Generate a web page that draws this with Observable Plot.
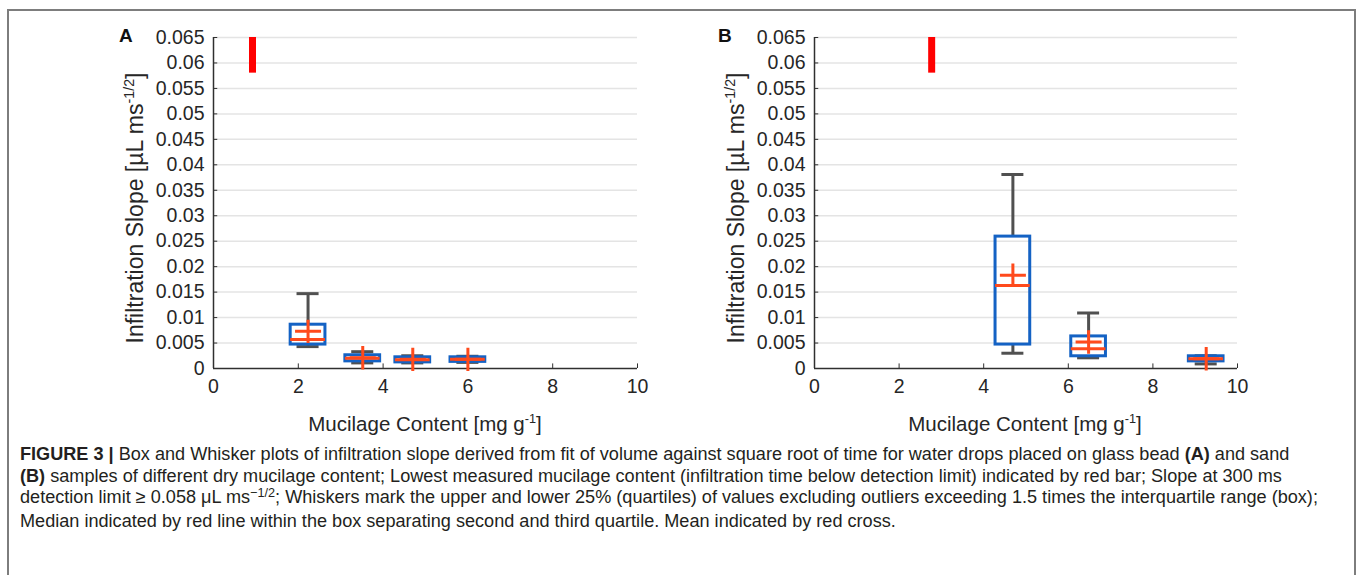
<!DOCTYPE html>
<html><head><meta charset="utf-8">
<script src="https://cdn.jsdelivr.net/npm/d3@7"></script>
<script src="https://cdn.jsdelivr.net/npm/@observablehq/plot@0.6"></script>
<style>
body{margin:0;background:#fff;width:1357px;height:575px;overflow:hidden;position:relative;font-family:"Liberation Sans",Arial,sans-serif;}
#frame{position:absolute;left:7px;top:9px;width:1345px;height:620px;border:2px solid #7d7d7d;border-bottom:none;}
.plotbox{position:absolute;top:0}
.lbl{position:absolute;color:#262626;white-space:nowrap;}
.sup{font-size:0.62em;position:relative;top:-0.6em;}
.ylbl{font-size:23px;transform:translate(-50%,-50%) rotate(-90deg);}
.xlbl{font-size:20.5px;transform:translate(-50%,-50%);}
.letter{position:absolute;font-weight:bold;font-size:19px;color:#111;}
#caption{position:absolute;left:20px;top:444px;font-family:"Liberation Sans",Arial,sans-serif;font-size:16px;line-height:21.7px;color:#231f20;white-space:nowrap;}
#caption b{font-weight:bold}
.csup{font-size:0.7em;position:relative;top:-0.5em;}
</style>
</head><body>
<div id="frame"></div>
<div id="pA" class="plotbox" style="left:0px"></div>
<div id="pB" class="plotbox" style="left:660px"></div>
<div class="letter" style="left:119px;top:25px">A</div>
<div class="letter" style="left:718px;top:25px">B</div>
<div class="lbl ylbl" style="left:135px;top:208px">Infiltration Slope [µL ms<span class="sup">-1/2</span>]</div>
<div class="lbl ylbl" style="left:736px;top:208px">Infiltration Slope [µL ms<span class="sup">-1/2</span>]</div>
<div class="lbl xlbl" style="left:425px;top:424px">Mucilage Content [mg g<span class="sup">-1</span>]</div>
<div class="lbl xlbl" style="left:1025px;top:424px">Mucilage Content [mg g<span class="sup">-1</span>]</div>
<div id="caption"><span id="l1"><b>FIGURE 3 |</b> Box and Whisker plots of infiltration slope derived from fit of volume against square root of time for water drops placed on glass bead <b>(A)</b> and sand</span><br><b>(B)</b> samples of different dry mucilage content; Lowest measured mucilage content (infiltration time below detection limit) indicated by red bar; Slope at 300 ms<br>detection limit ≥ 0.058 μL ms<span class="csup">−1/2</span>; Whiskers mark the upper and lower 25% (quartiles) of values excluding outliers exceeding 1.5 times the interquartile range (box);<br>Median indicated by red line within the box separating second and third quartile. Mean indicated by red cross.</div>
<script>
// ---- data ----
const xTicks = [0, 2, 4, 6, 8, 10];
const yTicks = [0, 0.005, 0.01, 0.015, 0.02, 0.025, 0.03, 0.035, 0.04, 0.045, 0.05, 0.055, 0.06, 0.065];
const limitLow = 0.058, limitHigh = 0.065;

// Panel A: glass beads
const xA    = [2.23, 3.52, 4.70, 6.00];
const lowA  = [0.0043, 0.0011, 0.0011, 0.0012];
const q1A   = [0.0047, 0.0014, 0.0012, 0.0013];
const medA  = [0.0057, 0.0020, 0.0017, 0.0018];
const q3A   = [0.0086, 0.0026, 0.0022, 0.0022];
const highA = [0.0147, 0.0033, 0.0025, 0.0024];
const meanA = [0.0073, 0.0021, 0.0018, 0.0018];
const limitA = 0.92;

// Panel B: sand
const xB    = [4.69, 6.48, 9.26];
const lowB  = [0.0030, 0.0021, 0.0009];
const q1B   = [0.0047, 0.0024, 0.0014];
const medB  = [0.0163, 0.0039, 0.0019];
const q3B   = [0.0259, 0.0063, 0.0024];
const highB = [0.0381, 0.0109, 0.0025];
const meanB = [0.0183, 0.0052, 0.0019];
const limitB = 2.77;

// ---- styles ----
const boxHw = 0.41, capHw = 0.26;
const cBox = "#1462c4", cMed = "#ff4a1c", cWh = "#505050", cBar = "#ff0000", cAxis = "#303030";
const crossSymbol = {draw(ctx, size) {
  const r = Math.sqrt(size / Math.PI);
  ctx.moveTo(-r, 0); ctx.lineTo(r, 0);
  ctx.moveTo(0, -r * 0.9); ctx.lineTo(0, r * 0.9);
}};

function panel(x, low, q1, med, q3, high, mean, limit, width, marginLeft, marginRight) {
  const rows = x.map((v, i) => ({x: v, low: low[i], q1: q1[i], med: med[i], q3: q3[i], high: high[i], mean: mean[i]}));
  return Plot.plot({
    width, height: 440, marginLeft, marginRight, marginTop: 37, marginBottom: 72,
    style: {fontFamily: "'Liberation Sans', Arial, sans-serif", fontSize: "19.5px", color: "#262626", background: "transparent", overflow: "visible"},
    x: {domain: [0, 10], ticks: xTicks, tickSize: 0, tickPadding: 11, label: null},
    y: {domain: [0, 0.065], ticks: yTicks, tickSize: 0, tickPadding: 9, label: null, tickFormat: d => String(+d.toFixed(3))},
    marks: [
      Plot.ruleY(yTicks.slice(1), {stroke: "#e4e4e4", strokeWidth: 1.5}),
      Plot.ruleY(yTicks, {y: d => d, x1: 0, x2: 0.1, stroke: cAxis, strokeWidth: 1}),
      Plot.ruleX(xTicks, {x: d => d, y1: 0, y2: 0.0009, stroke: cAxis, strokeWidth: 1}),
      Plot.ruleX([0], {stroke: cAxis, strokeWidth: 1.5}),
      Plot.ruleY([0], {stroke: cAxis, strokeWidth: 1.5}),
      Plot.ruleX([limit], {x: d => d, y1: limitLow, y2: limitHigh, stroke: cBar, strokeWidth: 7}),
      Plot.ruleX(rows, {x: "x", y1: "q3", y2: "high", stroke: cWh, strokeWidth: 3}),
      Plot.ruleX(rows, {x: "x", y1: "low", y2: "q1", stroke: cWh, strokeWidth: 3}),
      Plot.ruleY(rows, {y: "high", x1: d => d.x - capHw, x2: d => d.x + capHw, stroke: cWh, strokeWidth: 3}),
      Plot.ruleY(rows, {y: "low", x1: d => d.x - capHw, x2: d => d.x + capHw, stroke: cWh, strokeWidth: 3}),
      Plot.rect(rows, {x1: d => d.x - boxHw, x2: d => d.x + boxHw, y1: "q1", y2: "q3", fill: "white", fillOpacity: 0, stroke: cBox, strokeWidth: 3}),
      Plot.ruleY(rows, {y: "med", x1: d => d.x - boxHw, x2: d => d.x + boxHw, stroke: cMed, strokeWidth: 3}),
      Plot.dot(rows, {x: "x", y: "mean", r: 13, symbol: crossSymbol, fill: "none", stroke: cMed, strokeWidth: 3})
    ]
  });
}

document.getElementById("pA").append(panel(xA, lowA, q1A, medA, q3A, highA, meanA, limitA, 660, 213, 23));
document.getElementById("pB").append(panel(xB, lowB, q1B, medB, q3B, highB, meanB, limitB, 697, 154, 120));

// fit caption to reference line width
const l1 = document.getElementById("l1");
const w = l1.getBoundingClientRect().width;
const cap = document.getElementById("caption");
cap.style.fontSize = (16 * 1270 / w) + "px";
</script>
</body></html>
